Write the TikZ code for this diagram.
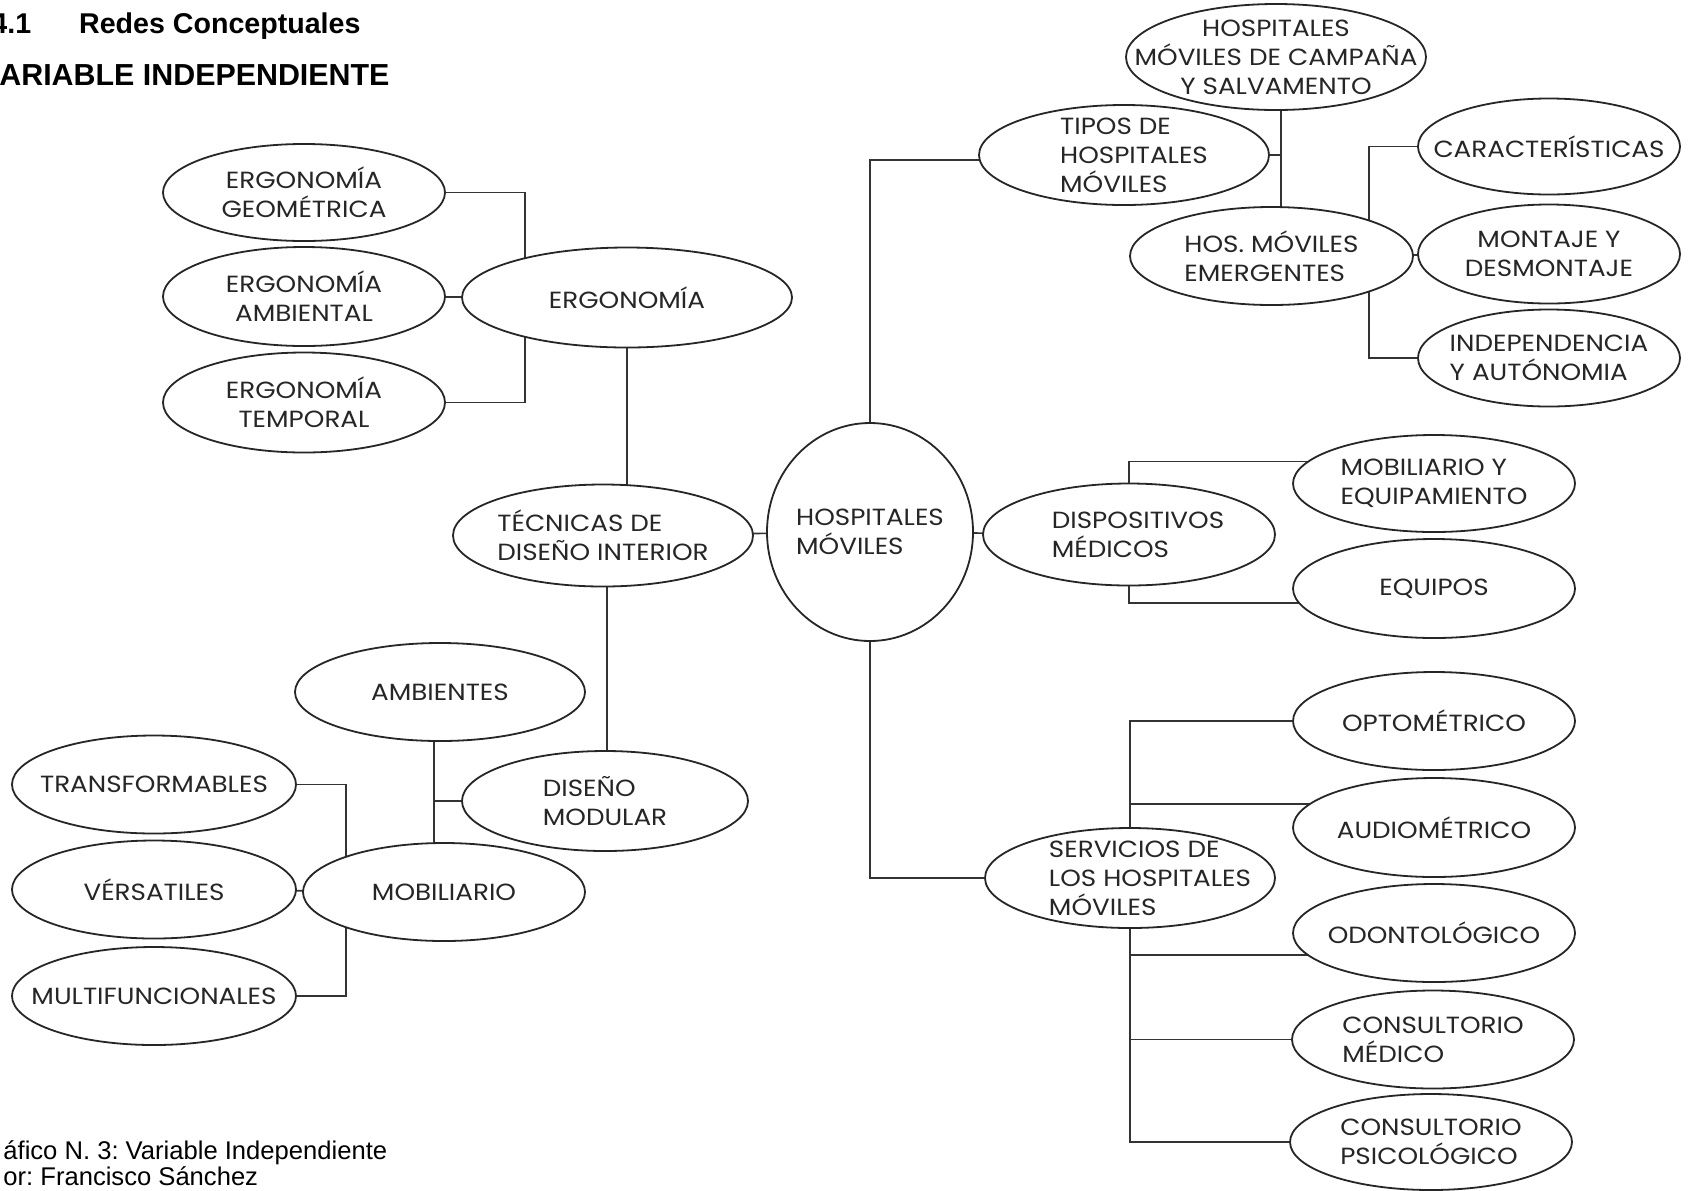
\documentclass[tikz,border=0pt]{standalone}
\usepackage{fontspec}
\setmainfont{Poppins}[FakeStretch=1.12]
\newfontfamily\arialfont{Liberation Sans}
\usetikzlibrary{shapes.geometric,backgrounds,calc}

\begin{document}
\frenchspacing
\begin{tikzpicture}[x=0.5pt,y=-0.5pt,
  bub/.style={ellipse, draw=black!85, line width=0.9pt, fill=white,
    inner xsep=-300pt, inner ysep=-150pt, text=black!85, align=center,
    font=\fontsize{11.7}{14.5}\selectfont},
  txt/.style={inner sep=0pt, text=black!85, align=left,
    font=\fontsize{11.7}{14.5}\selectfont},
  sz/.style 2 args={minimum width=#1*0.5pt, minimum height=#2*0.5pt},
  wire/.style={draw=black!80, line width=0.8pt},
  head/.style={anchor=base west, inner sep=0pt, font=\arialfont\bfseries\fontsize{#1}{#1}\selectfont},
  capt/.style={anchor=base west, inner sep=0pt, font=\arialfont\fontsize{12.8}{14}\selectfont},
]
\useasboundingbox (0,0) rectangle (1697,1190);

% headings
\node[head=14.3] (title) at (-9,33) {4.1\hspace{24pt}Redes Conceptuales};
\node[head=15.2] (var) at (-1,85) {ARIABLE INDEPENDIENTE};

% ergonomics branch
\node[bub, sz={282}{97}] (geo)  at (304,192.5) {ERGONOMÍA\\GEOMÉTRICA};
\node[bub, sz={282}{99}] (amb)  at (304,296.5) {ERGONOMÍA\\AMBIENTAL};
\node[bub, sz={282}{100}] (temp) at (304,402.5) {ERGONOMÍA\\TEMPORAL};
\node[bub, sz={330}{100}] (ergo) at (627,297.5) {ERGONOMÍA};

% interior design techniques
\node[bub, sz={300}{102}, align=left] (tec) at (603,535.5) {TÉCNICAS DE\\DISEÑO INTERIOR};
\node[bub, sz={286}{100}, align=left] (dismod) at (605,801) {DISEÑO\\MODULAR};
\node[bub, sz={290}{98}] (amb2) at (440,692) {AMBIENTES};
\node[bub, sz={282}{98}] (mob)  at (444,892) {MOBILIARIO};
\node[bub, sz={284}{98}] (trans) at (154,784.5) {TRANSFORMABLES};
\node[bub, sz={284}{98}] (vers)  at (154,889.5) {VÉRSATILES};
\node[bub, sz={284}{98}] (multi) at (154,996) {MULTIFUNCIONALES};

% central node
\node[bub, sz={206}{218}, align=left] (hosp) at (870,532) {HOSPITALES\\MÓVILES};

% types of mobile hospitals
\node[bub, sz={290}{100}] (tipos) at (1124,155) {};
\node[txt] (tipos-t) at (1134,155) {TIPOS DE\\HOSPITALES\\MÓVILES};
\node[bub, sz={300}{106}] (camp) at (1276,57) {HOSPITALES\\MÓVILES DE CAMPAÑA\\Y SALVAMENTO};
\node[bub, sz={283}{98}, align=left] (emer) at (1271.5,256) {HOS. MÓVILES\\EMERGENTES};
\node[bub, sz={262}{96}] (carac) at (1549,146.5) {CARACTERÍSTICAS};
\node[bub, sz={262}{99}] (mont)  at (1549,254) {MONTAJE Y\\DESMONTAJE};
\node[bub, sz={262}{97}, align=left] (indep) at (1549,358) {INDEPENDENCIA\\Y AUTÓNOMIA};

% medical devices
\node[bub, sz={292}{102}] (disp) at (1129,534.5) {};
\node[txt] (disp-t) at (1138,534.5) {DISPOSITIVOS\\MÉDICOS};
\node[bub, sz={282}{97}, align=left] (mobeq) at (1434,483.5) {MOBILIARIO Y\\EQUIPAMIENTO};
\node[bub, sz={282}{99}] (equipos) at (1434,588.5) {EQUIPOS};

% services
\node[bub, sz={290}{100}] (serv) at (1130,878) {};
\node[txt] (serv-t) at (1150,878) {SERVICIOS DE\\LOS HOSPITALES\\MÓVILES};
\node[bub, sz={282}{98}] (opto)  at (1434,721) {OPTOMÉTRICO};
\node[bub, sz={282}{99}] (audio) at (1434,827.5) {AUDIOMÉTRICO};
\node[bub, sz={282}{98}] (odon)  at (1434,933) {ODONTOLÓGICO};
\node[bub, sz={282}{98}, align=left] (consm) at (1433,1039.5) {CONSULTORIO\\MÉDICO};
\node[bub, sz={282}{96}, align=left] (consp) at (1431,1142) {CONSULTORIO\\PSICOLÓGICO};

% caption
\node[capt] (cap1) at (3,1159) {áfico N. 3: Variable Independiente};
\node[capt] (cap2) at (3,1185) {or: Francisco Sánchez};

% junction columns
\coordinate (jE) at (525,0);
\coordinate (jT) at (1281,0);
\coordinate (jR) at (1369,0);
\coordinate (jM) at (434,0);
\coordinate (jL) at (346,0);

\begin{scope}[on background layer]
  \fill[white] (0,0) rectangle (1697,1190);

  \draw[wire] (geo.center) -| (jE |- ergo.center);
  \draw[wire] (temp.center) -| (jE |- ergo.center);
  \draw[wire] (amb.center) -- (ergo.center);
  \draw[wire] (ergo.center) -- (ergo.center |- tec.center);
  \draw[wire] (tec.center) -- (hosp.center);
  \draw[wire] ($(tec.center)+(4,0)$) -- ($(tec.center |- dismod.center)+(4,0)$);

  \draw[wire] (hosp.center) |- ($(tipos.center)+(0,5)$);
  \draw[wire] (hosp.center) |- (serv.center);
  \draw[wire] (hosp.center) -- (disp.center);

  \draw[wire] (jT |- camp.center) -- (jT |- emer.center);
  \draw[wire] (tipos.center) -- (tipos.center -| jT);
  \draw[wire] (jR |- emer.center) |- (carac.center);
  \draw[wire] (jR |- emer.center) |- (indep.center);
  \draw[wire] (emer.center) -- (mont.center);

  \draw[wire] (disp.center) |- ($(mobeq.center)+(0,-22)$);
  \draw[wire] (disp.center) |- ($(equipos.center)+(0,14.5)$);

  \draw[wire] (serv.center) |- (opto.center);
  \draw[wire] (serv.center) |- ($(audio.center)+(0,-23.5)$);
  \draw[wire] (serv.center) |- ($(odon.center)+(0,22)$);
  \draw[wire] (serv.center) |- (consm.center);
  \draw[wire] (serv.center) |- (consp.center);

  \draw[wire] (jM |- amb2.center) -- (jM |- mob.center);
  \draw[wire] (dismod.center) -- (dismod.center -| jM);
  \draw[wire] (trans.center) -| (jL |- mob.center);
  \draw[wire] (multi.center) -| (jL |- mob.center);
  \draw[wire] (vers.center) -- (mob.center);
\end{scope}
\end{tikzpicture}
\end{document}
